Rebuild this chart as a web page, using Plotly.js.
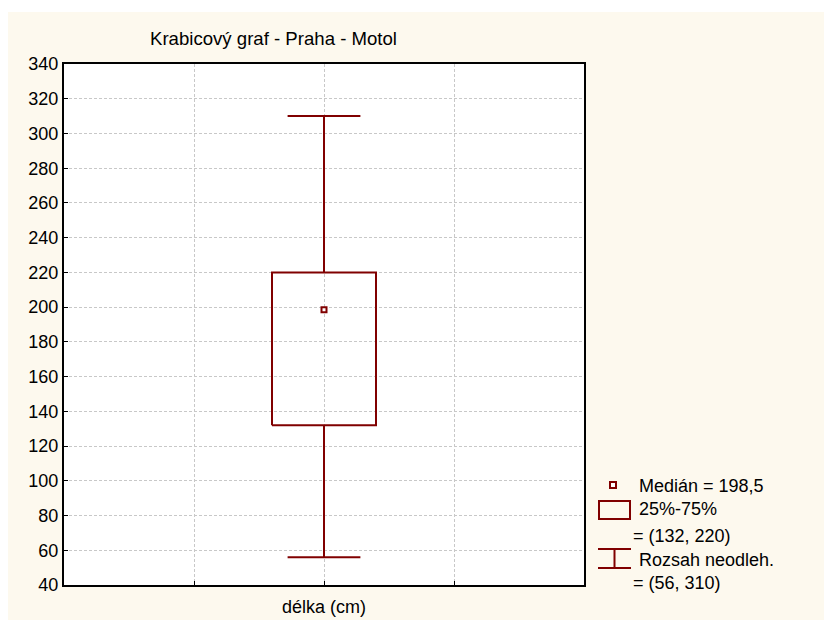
<!DOCTYPE html>
<html>
<head>
<meta charset="utf-8">
<script src="https://cdn.plot.ly/plotly-3.0.1.min.js"></script>
<style>
html,body{margin:0;padding:0;background:#ffffff;}
#chart{position:absolute;left:8px;top:12px;width:816px;height:608px;}
</style>
</head>
<body>
<div id="chart"></div>
<script>
// Data
const category = "délka (cm)";
const median = 198.5;
const q1 = 132;
const q3 = 220;
const whiskerLow = 56;
const whiskerHigh = 310;
const yTicks = [40,60,80,100,120,140,160,180,200,220,240,260,280,300,320,340];
const chartTitle = "Krabicový graf - Praha - Motol";
const legendLabels = ["Medián", "25%-75%", "Rozsah neodleh."];

const RED = "#800000";
const xc = 2;          // category position
const bw = 0.4;        // half box width
const cw = 0.28;       // half cap width

function fmt(v){ return String(v).replace(".", ","); }

const traces = [
  {x:[xc, xc, null, xc-cw, xc+cw], y:[q1, whiskerLow, null, whiskerLow, whiskerLow],
   mode:"lines", line:{color:RED, width:2}, hoverinfo:"skip", showlegend:false},
  {x:[xc, xc, null, xc-cw, xc+cw], y:[q3, whiskerHigh, null, whiskerHigh, whiskerHigh],
   mode:"lines", line:{color:RED, width:2}, hoverinfo:"skip", showlegend:false},
  {x:[xc-bw, xc+bw, xc+bw, xc-bw, xc-bw], y:[q1, q1, q3, q3, q1],
   mode:"lines", line:{color:RED, width:2}, hoverinfo:"skip", showlegend:false},
  {x:[xc], y:[median], mode:"markers",
   marker:{symbol:"square", size:5, color:"#ffffff", line:{color:RED, width:2}},
   hoverinfo:"skip", showlegend:false}
];

const W = 816, H = 608;
const ml = 56, mr = 240, mt = 52, mb = 35;
const pw = W - ml - mr, ph = H - mt - mb;
function px(xp){ return (xp - 8 - ml) / pw; }
function py(yp){ return (H - mb - (yp - 12)) / ph; }

const shapes = [
  {type:"rect", xref:"paper", yref:"paper", x0:px(610), x1:px(616), y0:py(488), y1:py(482),
   line:{color:RED, width:2}, fillcolor:"#ffffff"},
  {type:"rect", xref:"paper", yref:"paper", x0:px(599), x1:px(630), y0:py(519), y1:py(501),
   line:{color:RED, width:2}, fillcolor:"rgba(0,0,0,0)"},
  {type:"line", xref:"paper", yref:"paper", x0:px(598), x1:px(631), y0:py(549), y1:py(549), line:{color:RED, width:2}},
  {type:"line", xref:"paper", yref:"paper", x0:px(598), x1:px(631), y0:py(568), y1:py(568), line:{color:RED, width:2}},
  {type:"line", xref:"paper", yref:"paper", x0:px(614.5), x1:px(614.5), y0:py(549), y1:py(568), line:{color:RED, width:2}}
];

const tfont = {family:"Liberation Sans, Arial, sans-serif", size:18, color:"#000000"};
const titleFont = {family:"Liberation Sans, Arial, sans-serif", size:18.6, color:"#000000"};
function ann(text, xl, yc){
  return {text:text, xref:"paper", yref:"paper", x:px(xl), y:py(yc), xanchor:"left", yanchor:"middle",
          showarrow:false, font:tfont};
}
const annotations = [
  ann(legendLabels[0] + " = " + fmt(median), 637, 486),
  ann(legendLabels[1], 637, 509),
  ann("= (" + q1 + ", " + q3 + ")", 631, 536),
  ann(legendLabels[2], 637, 560),
  ann("= (" + whiskerLow + ", " + whiskerHigh + ")", 631, 583)
];

const layout = {
  width: W, height: H,
  paper_bgcolor: "#fdf9ee",
  plot_bgcolor: "#ffffff",
  margin: {l:ml, r:mr, t:mt, b:mb, pad:0},
  title: {text: chartTitle, font: titleFont, xref:"container", x:(150-8)/W, xanchor:"left",
          yref:"container", y:1-(38-12)/H, yanchor:"middle"},
  showlegend: false,
  xaxis: {range:[0,4], tickmode:"array", tickvals:[1,2,3], ticktext:["", category, ""],
          showgrid:true, gridcolor:"#c8c8c8", griddash:"3px,2px", gridwidth:1,
          showline:true, linecolor:"#000000", linewidth:2, mirror:true,
          ticks:"inside", ticklen:4, tickcolor:"#000000", tickfont:tfont, ticklabelstandoff:4,
          zeroline:false, fixedrange:true},
  yaxis: {range:[40,340], tickmode:"array", tickvals:yTicks,
          showgrid:true, gridcolor:"#c8c8c8", griddash:"3px,2px", gridwidth:1,
          showline:true, linecolor:"#000000", linewidth:2, mirror:true,
          ticks:"inside", ticklen:4, tickcolor:"#000000", tickfont:tfont, zeroline:false, fixedrange:true},
  shapes: shapes,
  annotations: annotations
};

Plotly.newPlot("chart", traces, layout, {displayModeBar:false, staticPlot:true});
</script>
</body>
</html>
